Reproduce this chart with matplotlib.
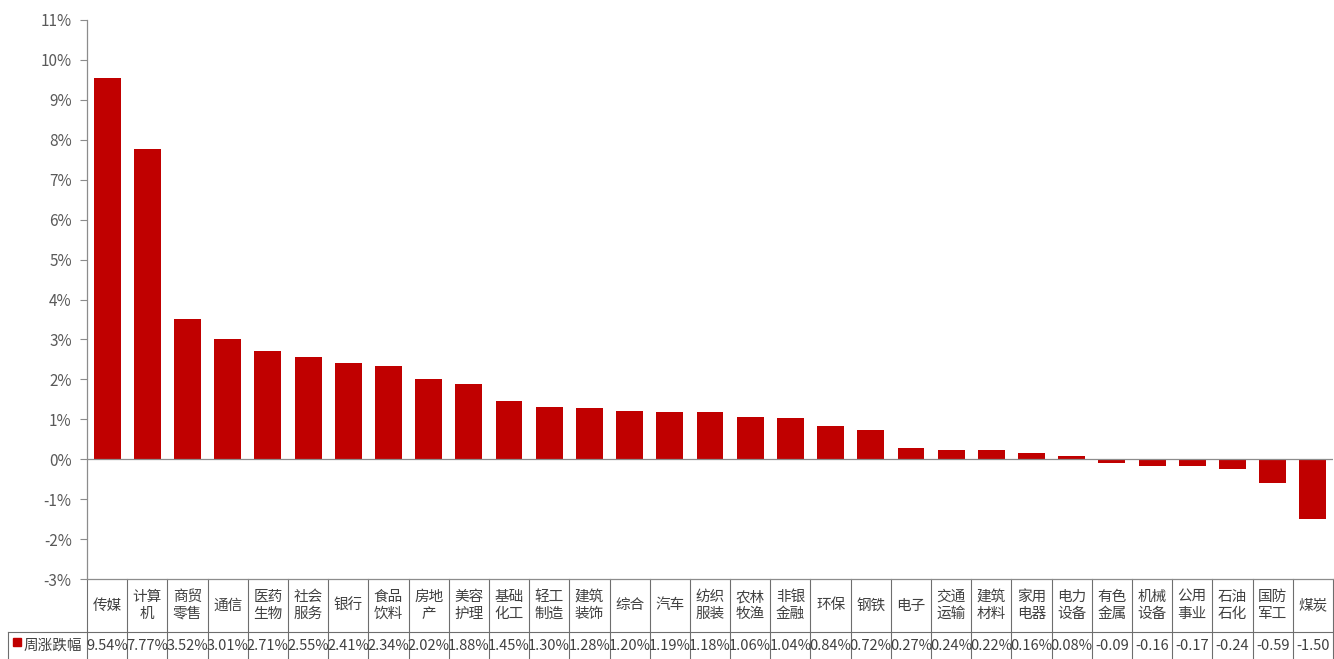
import matplotlib
matplotlib.use("Agg")
import matplotlib.pyplot as plt
from matplotlib.transforms import blended_transform_factory
from matplotlib.lines import Line2D
from matplotlib.patches import Rectangle

plt.rcParams['font.family'] = ['Noto Sans CJK SC', 'DejaVu Sans']

categories = ["传媒", "计算\n机", "商贸\n零售", "通信", "医药\n生物", "社会\n服务", "银行", "食品\n饮料",
              "房地\n产", "美容\n护理", "基础\n化工", "轻工\n制造", "建筑\n装饰", "综合", "汽车", "纺织\n服装",
              "农林\n牧渔", "非银\n金融", "环保", "钢铁", "电子", "交通\n运输", "建筑\n材料", "家用\n电器",
              "电力\n设备", "有色\n金属", "机械\n设备", "公用\n事业", "石油\n石化", "国防\n军工", "煤炭"]
values = [9.54, 7.77, 3.52, 3.01, 2.71, 2.55, 2.41, 2.34, 2.02, 1.88, 1.45, 1.30, 1.28, 1.20, 1.19, 1.18,
          1.06, 1.04, 0.84, 0.72, 0.27, 0.24, 0.22, 0.16, 0.08, -0.09, -0.16, -0.17, -0.24, -0.59, -1.50]
series_name = "周涨跌幅"
yticks = list(range(-3, 12))

W, H = 1334, 659
fig = plt.figure(figsize=(W / 100, H / 100), dpi=100)
ax = fig.add_axes([87 / W, 1 - 579 / H, (1333 - 87) / W, (579 - 20) / H])

bar_color = "#C00000"
grid_gray = "#8C8C8C"
text_gray = "#595959"

n = len(categories)
xs = list(range(n))
ax.bar(xs, values, width=0.67, color=bar_color, zorder=2)
ax.set_xlim(-0.5, n - 0.5)
ax.set_ylim(-3, 11)
ax.set_yticks(yticks)
ax.set_yticklabels([f"{t}%" for t in yticks], color=text_gray, fontsize=11)
ax.tick_params(axis='y', length=5, color=grid_gray, width=0.8, pad=6)
ax.set_xticks([])
for s in ["top", "right"]:
    ax.spines[s].set_visible(False)
ax.spines["left"].set_color(grid_gray)
ax.spines["bottom"].set_color(grid_gray)
ax.spines["left"].set_linewidth(0.9)
ax.spines["bottom"].set_linewidth(0.9)
ax.axhline(0, color=grid_gray, lw=0.9, zorder=3)

# data table below the axes
tr = blended_transform_factory(ax.transData, ax.transAxes)
ax_h = 579 - 20
y_mid = -(632 - 579) / ax_h
y_bot = -(659 - 579) / ax_h
line_kw = dict(color="#6E6E6E", lw=0.8, transform=tr, clip_on=False)
for i in range(n + 1):
    xb = i - 0.5
    ax.add_line(Line2D([xb, xb], [0, y_bot - 0.05], **line_kw))
ax.add_line(Line2D([-0.5, n - 0.5], [y_mid, y_mid], **line_kw))
for i, (c, v) in enumerate(zip(categories, values)):
    ax.text(i, y_mid / 2, c, transform=tr, ha="center", va="center", fontsize=10.5,
            color="#404040", linespacing=1.25, clip_on=False)
    lab = f"{v:.2f}%" if v >= 0 else f"{v:.2f}"
    ax.text(i, (y_mid + y_bot) / 2, lab, transform=tr, ha="center", va="center", fontsize=10.5,
            color="#404040", clip_on=False)

# left label cell of the value row
fig.add_artist(Line2D([8 / W, 87 / W], [1 - 632 / H, 1 - 632 / H], color="#6E6E6E", lw=0.8,
                      transform=fig.transFigure))
fig.add_artist(Line2D([8 / W, 8 / W], [1 - 632 / H, 0], color="#6E6E6E", lw=0.8,
                      transform=fig.transFigure))
fig.add_artist(Rectangle((13 / W, 1 - 646 / H), 8 / W, 8 / H, color=bar_color,
                         transform=fig.transFigure))
fig.text(24 / W, 1 - 646 / H, series_name, fontsize=10.5, color="#404040", va="center", ha="left")

fig.savefig("out.png", dpi=100)
